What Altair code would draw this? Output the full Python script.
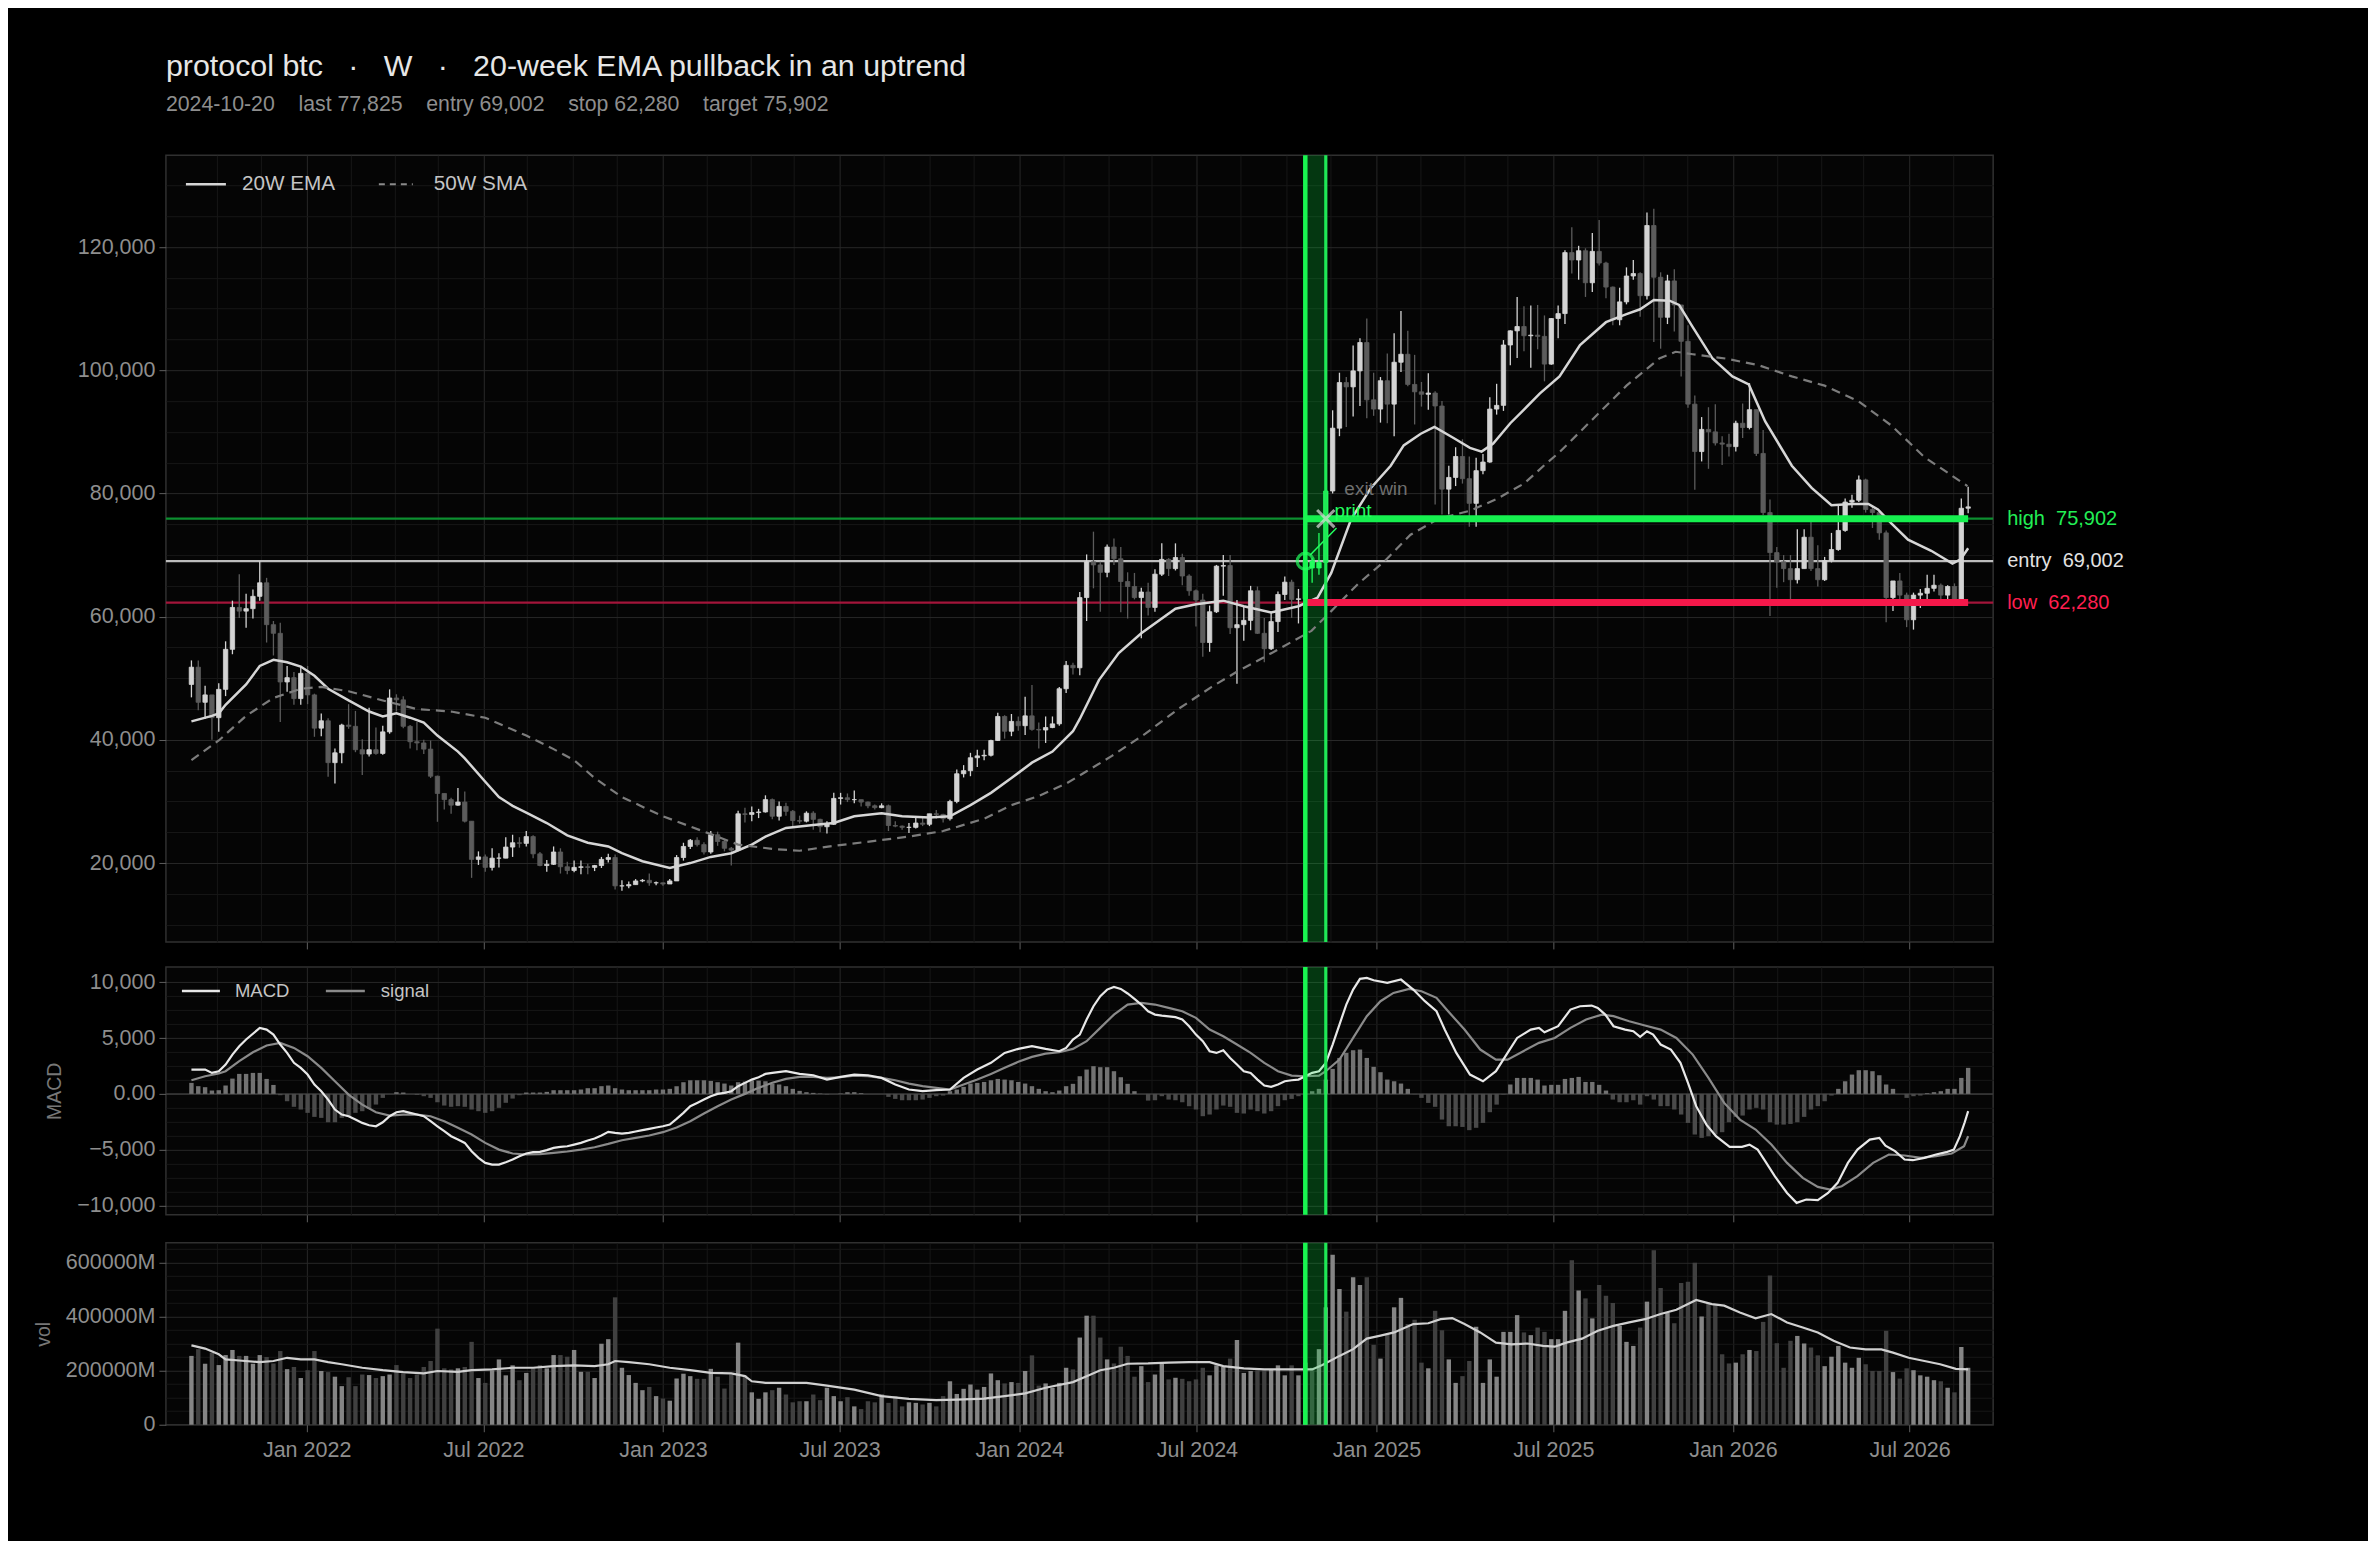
import altair as alt
import pandas as pd
import numpy as np

FONT = "Liberation Sans"

# ---------------- data (prices in thousands of USD, volume in billions) ----------------
START = "2021-09-05"          # first weekly bar (week ending Sunday)
ENTRY_DATE = "2024-10-20"
EXIT_DATE = "2024-11-10"
LAST_DATE = "2026-08-30"
ENTRY, STOP, TARGET = 69.002, 62.280, 75.902

FIRST_OPEN = 49.0
CLOSE = [
    51.8, 46.1, 47.3, 43.6, 48.2, 54.7, 61.5, 60.9, 61.3, 63.3,
    65.5, 58.7, 57.3, 49.4, 50.1, 46.7, 50.8, 47.3, 41.9, 43.1,
    36.3, 37.9, 42.4, 42.2, 38.4, 37.7, 38.4, 37.8, 41.3, 46.8,
    46.5, 42.2, 39.7, 39.5, 38.5, 34.1, 31.3, 30.3, 29.4, 29.9,
    26.8, 20.6, 21.0, 19.3, 20.8, 20.8, 22.6, 23.3, 23.2, 24.3,
    21.5, 19.6, 19.8, 21.8, 19.4, 18.8, 19.3, 19.4, 19.3, 19.6,
    20.6, 20.9, 16.3, 16.3, 16.5, 17.1, 17.2, 16.8, 16.8, 16.6,
    17.1, 20.9, 22.7, 23.7, 23.0, 21.8, 24.6, 23.5, 22.4, 22.1,
    28.0, 27.9, 28.2, 28.3, 30.3, 27.6, 29.2, 28.4, 26.9, 26.8,
    28.1, 27.1, 25.9, 26.3, 30.5, 30.6, 30.3, 30.3, 29.9, 29.3,
    29.0, 29.3, 26.1, 26.0, 25.8, 25.8, 26.5, 26.3, 28.0, 27.9,
    27.2, 30.0, 34.5, 35.0, 37.1, 37.4, 37.5, 39.9, 43.8, 41.4,
    43.0, 42.3, 43.9, 41.7, 41.6, 42.0, 42.6, 48.3, 52.1, 51.7,
    63.1, 68.9, 68.4, 67.2, 71.3, 69.4, 65.7, 64.9, 63.1, 64.0,
    61.5, 66.9, 69.3, 67.8, 69.6, 66.6, 64.2, 62.7, 55.8, 60.8,
    68.2, 68.3, 58.2, 58.7, 59.4, 64.2, 57.3, 54.8, 59.2, 63.6,
    65.6, 62.8, 62.9, 69.0, 67.9, 68.8, 80.4, 90.6, 98.0, 97.3,
    99.9, 104.5, 95.2, 93.7, 98.3, 94.5, 101.3, 102.6, 97.7, 96.5,
    96.1, 96.3, 94.2, 80.7, 82.6, 86.0, 82.4, 78.4, 83.7, 85.1,
    93.7, 94.3, 104.1, 106.4, 107.1, 105.6, 105.7, 105.5, 101.0, 108.4,
    109.2, 119.1, 117.9, 119.4, 114.2, 119.3, 117.4, 113.5, 108.2, 111.1,
    115.3, 115.7, 112.1, 123.5, 115.1, 108.6, 114.5, 110.6, 104.7, 94.5,
    86.8, 90.4, 90.0, 88.2, 88.0, 87.6, 91.4, 90.7, 93.6, 86.5,
    76.9, 70.4, 68.9, 67.8, 66.0, 67.8, 72.9, 67.8, 66.0, 69.1,
    70.9, 74.0, 78.6, 78.9, 82.2, 77.4, 76.9, 73.6, 63.1, 65.8,
    63.5, 59.5, 63.5, 63.8, 64.6, 65.1, 63.5, 64.9, 62.8, 77.6,
    77.825,
]
HIGH = [
    52.9, 52.9, 48.8, 47.3, 49.2, 56.0, 62.6, 66.9, 63.7, 64.4,
    69.0, 66.3, 59.3, 59.0, 52.0, 51.0, 51.9, 52.0, 47.5, 44.3,
    43.5, 38.6, 42.6, 45.8, 44.7, 40.1, 45.2, 42.0, 42.3, 48.2,
    47.4, 47.1, 42.4, 42.9, 40.0, 39.9, 34.2, 31.3, 30.6, 32.2,
    31.6, 26.8, 21.9, 21.4, 22.4, 21.6, 24.2, 24.6, 24.2, 25.2,
    24.5, 21.8, 20.5, 22.7, 22.4, 20.2, 20.4, 20.4, 19.9, 19.7,
    21.0, 21.5, 21.4, 17.2, 17.0, 17.4, 17.4, 18.3, 17.0, 16.8,
    17.4, 21.3, 23.3, 23.9, 24.2, 23.4, 25.2, 25.1, 23.9, 22.6,
    28.5, 29.0, 29.2, 28.8, 31.0, 30.5, 30.0, 29.8, 28.6, 27.7,
    28.4, 28.4, 27.2, 26.8, 31.4, 31.4, 31.3, 31.8, 30.3, 30.0,
    29.5, 29.7, 29.5, 26.8, 26.1, 26.5, 27.4, 27.4, 28.0, 28.6,
    28.0, 30.3, 35.2, 35.9, 37.9, 38.4, 38.4, 40.0, 44.4, 44.0,
    44.2, 43.8, 47.0, 48.9, 42.8, 43.8, 43.8, 48.6, 52.8, 52.5,
    64.0, 70.1, 73.8, 68.9, 71.7, 72.7, 71.3, 67.2, 67.1, 64.7,
    65.5, 67.7, 71.9, 69.5, 71.9, 70.2, 66.9, 64.4, 63.7, 61.8,
    68.4, 70.0, 70.0, 62.7, 61.6, 65.0, 64.9, 59.8, 60.6, 64.1,
    66.5, 66.0, 64.5, 69.4, 69.5, 73.6, 81.5, 93.5, 99.6, 98.9,
    104.0, 105.2, 108.4, 99.6, 98.9, 102.7, 106.0, 109.6, 106.4, 102.5,
    98.1, 99.5, 96.6, 95.0, 84.5, 87.5, 88.8, 86.0, 85.8, 86.4,
    95.6, 97.8, 104.9, 106.5, 111.9, 110.4, 110.5, 110.6, 108.9, 108.5,
    110.5, 119.5, 123.2, 120.2, 119.8, 122.3, 124.4, 117.6, 113.6, 113.4,
    116.7, 117.9, 115.9, 125.6, 126.2, 115.9, 115.5, 116.4, 110.6, 107.3,
    95.9, 92.4, 94.0, 94.5, 89.3, 89.7, 91.8, 94.6, 97.9, 93.6,
    90.3, 79.0, 71.3, 70.0, 70.0, 74.2, 74.2, 75.7, 71.6, 69.7,
    73.6, 78.1, 79.2, 79.8, 82.9, 82.4, 78.0, 77.3, 74.0, 65.8,
    67.1, 63.9, 63.9, 64.5, 66.8, 66.8, 65.4, 65.1, 65.4, 79.2,
    81.1,
]
LOW = [
    46.9, 44.8, 43.4, 40.0, 41.3, 47.1, 53.9, 59.8, 58.2, 59.7,
    62.6, 55.8, 53.7, 42.9, 47.8, 45.7, 45.7, 45.8, 40.5, 40.6,
    34.0, 32.9, 36.2, 41.8, 38.0, 34.3, 37.3, 37.6, 37.6, 41.0,
    44.6, 41.9, 38.6, 38.3, 37.7, 33.8, 26.7, 28.7, 28.0, 29.3,
    26.6, 17.6, 19.7, 18.6, 18.8, 19.3, 20.8, 21.0, 22.5, 22.7,
    20.8, 19.5, 18.6, 19.7, 18.3, 18.2, 18.5, 18.2, 18.2, 18.7,
    19.2, 20.1, 15.7, 15.5, 15.9, 16.5, 16.9, 16.3, 16.4, 16.3,
    16.6, 17.1, 20.4, 22.3, 22.7, 21.4, 21.5, 22.8, 21.9, 19.6,
    21.9, 26.6, 26.8, 27.3, 28.2, 27.1, 26.9, 27.7, 25.8, 26.4,
    26.6, 25.4, 25.0, 24.8, 26.2, 29.5, 29.9, 29.7, 29.2, 28.9,
    28.7, 28.9, 25.2, 25.8, 25.4, 24.9, 25.6, 26.0, 26.0, 27.2,
    26.6, 26.9, 29.7, 33.9, 34.1, 35.6, 36.7, 37.3, 39.8, 40.2,
    40.6, 41.5, 40.8, 41.5, 38.6, 39.5, 41.9, 42.3, 47.6, 50.6,
    50.5, 59.3, 64.6, 60.8, 66.4, 68.4, 60.7, 59.7, 62.8, 56.5,
    60.2, 60.8, 66.6, 66.6, 67.5, 65.1, 63.4, 58.4, 53.5, 54.3,
    60.6, 63.4, 57.2, 49.1, 56.1, 57.8, 57.2, 52.6, 54.6, 57.5,
    62.7, 59.8, 58.9, 62.0, 65.5, 66.8, 67.5, 80.0, 89.3, 90.8,
    92.5, 94.2, 92.2, 92.6, 91.5, 91.4, 89.3, 99.7, 97.4, 91.2,
    94.1, 93.6, 78.2, 76.6, 76.6, 81.2, 81.6, 74.6, 74.6, 83.1,
    85.0, 92.8, 93.4, 100.8, 102.0, 103.1, 100.4, 103.4, 98.2, 100.9,
    105.2, 107.5, 115.7, 114.7, 111.9, 112.7, 117.0, 111.7, 107.3, 107.3,
    110.7, 114.7, 108.7, 111.5, 104.6, 103.5, 107.5, 106.3, 99.0, 93.9,
    80.6, 85.2, 84.0, 87.8, 84.6, 86.0, 86.8, 89.0, 90.4, 86.1,
    76.5, 60.1, 64.7, 65.6, 62.8, 65.4, 67.8, 67.4, 64.9, 65.8,
    68.8, 70.7, 73.8, 77.7, 78.6, 76.9, 74.4, 72.5, 59.1, 60.9,
    62.7, 58.3, 57.9, 61.4, 62.7, 64.1, 62.8, 62.6, 62.4, 62.4,
    76.8,
]
VOLUME = [
    255, 280, 226, 267, 221, 258, 277, 255, 255, 226,
    258, 251, 227, 273, 206, 214, 173, 202, 273, 199,
    195, 178, 143, 176, 143, 186, 184, 173, 180, 186,
    221, 190, 173, 186, 214, 236, 356, 209, 205, 209,
    214, 307, 173, 155, 201, 242, 183, 220, 165, 192,
    209, 221, 209, 258, 258, 252, 277, 196, 196, 173,
    300, 317, 472, 211, 184, 155, 128, 140, 106, 97,
    89, 171, 189, 180, 170, 170, 207, 178, 134, 186,
    304, 183, 120, 96, 120, 128, 137, 112, 83, 87,
    87, 112, 91, 137, 106, 87, 102, 68, 58, 87,
    83, 112, 81, 106, 68, 83, 81, 75, 81, 68,
    106, 161, 114, 133, 149, 130, 140, 190, 165, 153,
    158, 155, 199, 257, 145, 153, 137, 155, 211, 205,
    323, 404, 404, 323, 242, 227, 289, 255, 178, 217,
    158, 186, 227, 168, 174, 170, 161, 168, 211, 183,
    220, 214, 245, 314, 192, 199, 201, 201, 205, 220,
    183, 220, 183, 230, 211, 280, 435, 630, 503, 419,
    546, 518, 546, 296, 245, 335, 435, 470, 373, 389,
    230, 209, 422, 350, 242, 155, 180, 236, 363, 155,
    242, 178, 344, 344, 406, 342, 332, 360, 344, 317,
    317, 422, 609, 497, 468, 394, 518, 478, 451, 366,
    307, 292, 360, 456, 646, 507, 414, 376, 525, 530,
    600, 401, 451, 443, 261, 227, 230, 261, 277, 273,
    381, 553, 302, 211, 311, 329, 301, 286, 257, 217,
    252, 292, 230, 211, 248, 224, 199, 199, 348, 195,
    171, 209, 202, 183, 178, 165, 161, 137, 120, 288,
    211,
]
HIST = [
    985, 690, 600, 300, 330, 750, 1370, 1790, 1790, 1880,
    1880, 1340, 800, -120, -660, -1160, -1400, -1700, -2060, -2150,
    -2540, -2540, -2150, -2060, -1700, -1550, -1340, -955, -360, 0,
    150, 120, 0, -90, -210, -360, -750, -1045, -1160, -1100,
    -1160, -1400, -1550, -1700, -1550, -1250, -800, -420, -120, 120,
    120, 120, 180, 330, 330, 330, 330, 390, 510, 510,
    690, 750, 510, 390, 330, 330, 330, 330, 390, 390,
    450, 690, 1045, 1220, 1220, 1220, 1160, 1045, 925, 750,
    1045, 1100, 1190, 1190, 1130, 925, 840, 690, 450, 270,
    150, 90, 30, -60, 0, 30, 150, 150, 60, 0,
    0, 0, -270, -450, -570, -570, -570, -510, -360, -210,
    -150, 240, 390, 630, 925, 985, 1070, 1220, 1340, 1280,
    1220, 1070, 925, 690, 450, 240, 150, 300, 690, 900,
    1580, 2180, 2480, 2390, 2390, 2030, 1490, 900, 240, 0,
    -600, -570, -210, -510, -570, -750, -1100, -1400, -2000, -1850,
    -1400, -1045, -1160, -1700, -1760, -1400, -1550, -1760, -1550, -1100,
    -570, -450, -210, 0, 240, 450, 1280, 2240, 3220, 3670,
    3910, 3970, 3220, 2420, 1940, 1280, 1130, 925, 450, -30,
    -360, -810, -1160, -2300, -2900, -2900, -2960, -3250, -3040, -2600,
    -1640, -960, -60, 840, 1430, 1430, 1430, 1280, 750, 810,
    810, 1340, 1430, 1520, 1070, 1070, 810, 300, -510, -750,
    -750, -570, -960, -210, -510, -1100, -1100, -1400, -1850, -2600,
    -3640, -3940, -3790, -3640, -3430, -2540, -2060, -1940, -1400, -1250,
    -1400, -2540, -2750, -2750, -2690, -2540, -2060, -1400, -1100, -660,
    -150, 450, 1130, 1730, 2120, 2120, 2030, 1670, 840, 450,
    0, -360, -210, -150, 60, 150, 240, 450, 450, 1430,
    2330,
]

# indicator lines (week index from START, value)
EMA_W = [0, 3, 4, 5, 8, 10, 12, 14, 16, 18, 20, 23, 26, 28, 30, 32, 34, 36, 39, 40,
         43, 45, 47, 49, 52, 55, 58, 61, 63, 66, 70, 73, 76, 79, 82, 84, 87, 91, 94, 97,
         101, 104, 108, 111, 114, 117, 120, 123, 126, 129, 130, 132.8, 135.7, 139, 144, 147, 151, 154, 158, 162,
         164.8, 166.8, 169.7, 172.6, 175.5, 177.4, 179.9, 181.9, 184.7, 187.1, 188.8, 190.5, 193, 195, 197.3, 200.2, 203.2, 207, 210, 212,
         214, 216.3, 217.7, 219.7, 222.6, 225.5, 227.9, 230.3, 234.2, 237.1, 240, 242.9, 245.4, 246.8, 248.8, 251.2, 254.6, 257.7, 258.9, 260]
EMA_V = [43.0, 43.9, 44.3, 45.7, 49.0, 52.0, 53.0, 52.6, 51.9, 50.4, 48.3, 46.4, 44.6, 43.8, 44.3, 43.6, 42.8, 40.7, 38.1, 37.0,
         33.2, 30.7, 29.3, 28.2, 26.5, 24.5, 23.3, 22.7, 21.6, 20.3, 19.2, 20.0, 21.0, 21.6, 23.0, 24.3, 25.7, 26.2, 26.5, 27.6,
         28.1, 27.6, 27.4, 27.6, 29.4, 31.4, 33.8, 36.3, 38.1, 41.4, 43.4, 49.7, 54.1, 57.3, 61.3, 62.0, 62.6, 61.7, 60.7, 61.7,
         63.1, 67.1, 75.8, 80.9, 84.5, 87.8, 89.7, 90.8, 89.0, 87.4, 86.8, 88.1, 91.4, 93.6, 96.2, 99.0, 104.1, 107.8, 109.1, 109.9,
         111.4, 111.3, 110.6, 107.0, 101.9, 99.0, 97.7, 91.7, 84.5, 80.9, 78.1, 78.3, 78.3, 77.4, 75.1, 72.5, 70.7, 68.6, 69.3, 71.1]
SMA_W = [0, 4, 8, 12, 16, 19, 23, 28, 33, 38, 43, 49, 53, 56, 59, 63, 69, 76, 80, 85,
         89, 94, 100, 105, 110, 113, 116, 120, 124, 128, 131, 134.7, 139.6, 144.4, 149.3, 153.2, 157.1, 161, 163.9, 166.8,
         170.7, 174.5, 178.4, 182.3, 187.1, 191, 195, 198.3, 200.2, 205.1, 210, 214.8, 217.2, 219.7, 224.5, 229.4, 234.2, 239, 243.9, 248.8,
         253.6, 259.9]
SMA_V = [36.7, 39.9, 43.9, 46.8, 48.3, 48.6, 47.9, 46.4, 45.0, 44.6, 43.6, 40.7, 38.5, 36.7, 33.8, 30.7, 27.6, 24.7, 23.0, 22.3,
         22.0, 22.8, 23.6, 24.3, 25.2, 26.2, 27.2, 29.4, 30.9, 32.9, 34.9, 37.4, 41.0, 45.0, 48.6, 51.2, 53.5, 55.9, 57.7, 60.9,
         65.3, 68.9, 73.3, 75.8, 77.2, 79.1, 81.6, 84.9, 86.7, 92.1, 97.5, 101.9, 103.0, 102.6, 101.9, 100.8, 99.0, 97.5, 95.0, 91.0,
         85.9, 81.2]
MACD_W = [0, 2, 3, 4, 5, 6, 7, 8, 10, 11, 12, 13, 14, 15, 16, 17, 18, 19, 20, 21,
          22, 23, 24, 25, 26, 27, 28, 29, 30, 31, 32, 33, 34, 35, 36, 37, 38, 39, 40, 41,
          42, 43, 44, 45, 46, 47, 48, 49, 50, 51, 52, 53, 54, 55, 56, 57, 58, 59, 60, 61,
          62, 63, 64, 65, 66, 67, 68, 69, 70, 71, 72, 73, 74, 75, 76, 77, 78, 79, 80, 81,
          82, 83, 84, 85, 87, 89, 91, 93, 95, 97, 99, 101, 103, 105, 107, 109, 111, 113, 115, 117,
          119, 121, 123, 125, 127, 128, 129, 130, 131, 132, 133, 134, 135, 136, 137, 138, 139, 140, 141, 142,
          144, 145, 146, 147, 148, 149, 150, 151, 152, 153, 154, 155, 156, 157, 158, 159, 160, 161, 162, 163,
          164, 165, 166, 167, 168, 169, 170, 171, 172, 173, 175, 177, 178.8, 180.5, 182.2, 183.4, 185.1, 187.1, 189, 190.9,
          192.6, 194, 196, 197.2, 198, 200, 201.8, 203.2, 204.9, 205.8, 206.9, 208.1, 209.8, 211, 212, 213, 213.9, 215, 216.5, 217.9,
          219, 220.2, 221.7, 223.1, 225.1, 226.9, 228, 229.2, 230.3, 231.7, 233.5, 234.9, 236.3, 238, 239.5, 240.9, 242.4, 243.8, 245.6, 247,
          247.9, 249.3, 250.7, 251.9, 253.6, 255.3, 256.8, 257.9, 258.8, 259.5, 260]
MACD_V = [2180, 2180, 1880, 2030, 2630, 3520, 4270, 4870, 5910, 5760, 5310, 4420, 3670, 2780, 2330, 1730, 840, 240, -510, -1400,
          -1850, -2000, -2300, -2600, -2810, -2900, -2540, -2000, -1640, -1550, -1700, -1850, -2000, -2450, -2900, -3340, -3790, -4090, -4390, -5130,
          -5730, -6180, -6330, -6330, -6120, -5880, -5580, -5340, -5220, -5190, -5040, -4840, -4750, -4690, -4540, -4390, -4180, -4000, -3730, -3400,
          -3490, -3550, -3490, -3370, -3250, -3130, -3010, -2900, -2750, -2240, -1700, -1100, -810, -510, -210, 0, 90, 240, 690, 985,
          1280, 1490, 1790, 1880, 2030, 1790, 1670, 1280, 1520, 1730, 1670, 1430, 840, 390, 240, 330, 390, 1430, 2180, 2780,
          3670, 4030, 4270, 4030, 3820, 4120, 4870, 5310, 6660, 7850, 8750, 9340, 9580, 9400, 8990, 8510, 8000, 7400, 7100, 7010,
          6870, 6660, 6060, 5310, 4720, 3820, 3670, 3910, 3220, 2630, 2030, 1880, 1280, 750, 630, 840, 1130, 1220, 1280, 1580,
          1880, 2030, 2780, 4420, 6210, 8000, 9340, 10300, 10390, 10180, 9940, 10240, 9340, 8300, 7400, 5760, 3670, 1730, 1130, 2030,
          3670, 5010, 5760, 5910, 5520, 6060, 7550, 7850, 7910, 7700, 7100, 6060, 5760, 5610, 5100, 5610, 5310, 4420, 3970, 2780,
          990, -1100, -2750, -3790, -4750, -4750, -4540, -4990, -6030, -7370, -8870, -9760, -9460, -9520, -8870, -7970, -6180, -4990, -4090, -3940,
          -4630, -5130, -5880, -5940, -5730, -5430, -5220, -4990, -3790, -2540, -1550]
SIGNAL_W = [0, 2, 4, 5, 7, 9, 11, 13, 15, 17, 19, 21, 23, 25, 27, 29, 31, 33, 35, 37,
            39, 41, 43, 45, 47, 49, 51, 53, 55, 57, 59, 61, 63, 65, 67, 69, 71, 73, 75, 77,
            79, 81, 83, 85, 87, 89, 91, 93, 95, 97, 99, 101, 103, 105, 107, 109, 111, 113, 115, 117,
            119, 121, 123, 125, 127, 129, 131, 133, 135, 137, 139, 141, 143, 145, 147, 149, 151, 153, 155, 157,
            159, 161, 163, 165, 166, 168, 170, 172, 174, 175.9, 178.2, 180, 182.2, 183.9, 186.3, 188.6, 190.9, 192.6, 194.9, 197.2,
            199.5, 201.8, 204.1, 206.4, 208.1, 210.4, 212.7, 215, 217.3, 219.7, 222, 224.3, 226.6, 228.9, 231.2, 233.5, 235.8, 238, 239.8, 241.5,
            243.8, 246.1, 248.4, 250.7, 253.1, 255.3, 257.6, 259.4, 260]
SIGNAL_V = [1220, 1580, 1820, 2030, 2930, 3730, 4330, 4570, 4120, 3370, 2330, 1130, -60, -960, -1640, -1940, -1850, -1850, -2000, -2450,
            -3040, -3640, -4390, -4990, -5340, -5430, -5400, -5280, -5160, -4990, -4780, -4480, -4150, -3940, -3730, -3430, -3010, -2450, -1760, -1100,
            -510, 0, 540, 1000, 1340, 1520, 1520, 1430, 1490, 1640, 1580, 1430, 1220, 925, 690, 540, 390, 840, 1280, 1790,
            2330, 2870, 3310, 3610, 3730, 4030, 4720, 5910, 7100, 8000, 8150, 8000, 7700, 7400, 6810, 5760, 5160, 4420, 3670, 2780,
            2030, 1640, 1580, 1640, 2030, 3070, 5010, 6960, 8300, 9040, 9400, 9190, 8600, 7400, 5760, 3970, 3070, 3070, 3820, 4570,
            5010, 5910, 6660, 7100, 6960, 6510, 6120, 5760, 5010, 3520, 1430, -810, -2300, -3190, -4540, -6180, -7520, -8330, -8570, -8270,
            -7370, -6180, -5430, -5520, -5730, -5580, -5340, -4690, -3790]
VMA_W = [0, 2, 4, 5, 7, 10, 12, 14, 16, 18, 20, 22, 25, 28, 31, 34, 36, 39, 41, 44,
         47, 50, 53, 56, 59, 61, 62, 64, 67, 70, 73, 76, 79, 81, 82, 84, 90, 93, 97, 101,
         105, 109, 112, 116, 119, 122, 125, 129, 131, 133, 135, 137, 140, 143, 146, 149, 151, 154, 157, 160,
         164, 165.5, 168, 170, 172, 174, 176, 178.8, 181, 182.8, 184.5, 186.3, 188.6, 190.9, 193.2, 195.5, 197.8, 199.5, 201.2, 203.5,
         205.8, 208.1, 210.4, 212.7, 215, 217.3, 220.2, 222.5, 224.3, 226.6, 228.9, 231.2, 233.5, 235.8, 238, 240.3, 242.7, 245, 247.3, 249,
         251.3, 253.6, 255.9, 258.2, 260]
VMA_V = [294, 282, 261, 242, 238, 232, 236, 248, 242, 242, 232, 224, 211, 202, 195, 190, 199, 196, 202, 205,
         211, 211, 217, 220, 217, 224, 236, 232, 224, 211, 202, 192, 190, 180, 161, 155, 155, 145, 130, 106,
         96, 91, 93, 97, 106, 116, 137, 158, 180, 202, 211, 226, 227, 230, 232, 232, 217, 209, 205, 205,
         205, 221, 255, 280, 319, 330, 342, 373, 376, 391, 395, 373, 342, 304, 298, 301, 292, 289, 304, 319,
         348, 366, 379, 391, 410, 426, 462, 447, 441, 416, 394, 410, 379, 360, 342, 311, 286, 279, 279, 267,
         248, 236, 224, 207, 205]

# annotations
ANNOT_TEXT = ["exit win", "print"]
ANNOT_DATE = ["2024-11-29", "2024-11-19"]
ANNOT_Y = [80.8, 77.2]
CONN_DATE = ["2024-10-25", "2024-11-21"]
CONN_Y = [70.0, 74.4]

# ---------------- styling ----------------
W = 1828
H_MAIN, H_MACD, H_VOL = 787, 248, 182
UP, DOWN, WIN = "#d4d4d4", "#5c5c5c", "#22ff5e"
VOL_UP, VOL_DOWN = "#858585", "#404040"
HIST_POS, HIST_NEG = "#727272", "#4a4a4a"
GREEN_THIN, GREEN_THICK, RED_THIN, RED_THICK = "#0d8f30", "#16f04f", "#a3153a", "#f5184a"
LABEL_C = "#8e8e8e"
AX_FS = 21.5

start = pd.Timestamp(START)


def wk(idx):
    return [start + pd.Timedelta(days=7 * float(i)) for i in idx]


df = pd.DataFrame({
    "date": wk(range(len(CLOSE))),
    "open": [FIRST_OPEN] + CLOSE[:-1],
    "close": CLOSE, "high": HIGH, "low": LOW, "vol": VOLUME, "hist": HIST,
})
up = df["close"] >= df["open"]
inwin = (df["date"] >= pd.Timestamp(ENTRY_DATE)) & (df["date"] <= pd.Timestamp(EXIT_DATE))
df["ccol"] = np.where(inwin, WIN, np.where(up, UP, DOWN))
df["vcol"] = np.where(up, VOL_UP, VOL_DOWN)
df["hcol"] = np.where(df["hist"] >= 0, HIST_POS, HIST_NEG)

ema = pd.DataFrame({"date": wk(EMA_W), "v": EMA_V})
sma = pd.DataFrame({"date": wk(SMA_W), "v": SMA_V})
macd = pd.DataFrame({"date": wk(MACD_W), "v": MACD_V})
sig = pd.DataFrame({"date": wk(SIGNAL_W), "v": SIGNAL_V})
vma = pd.DataFrame({"date": wk(VMA_W), "v": VMA_V})

band = pd.DataFrame({"start": [pd.Timestamp(ENTRY_DATE)], "end": [pd.Timestamp(EXIT_DATE)]})
vlines = pd.DataFrame({"date": [pd.Timestamp(ENTRY_DATE), pd.Timestamp(EXIT_DATE)],
                       "c": ["#19f550", "#1fe856"], "w": [4.5, 3.2]})
levels = pd.DataFrame({
    "value": [TARGET, ENTRY, STOP],
    "thin": [GREEN_THIN, "#bdbdbd", RED_THIN],
    "label": ["high\u00a0\u00a075,902", "entry\u00a0\u00a069,002", "low\u00a0\u00a062,280"],
    "lc": ["#22ee55", "#e2e2e2", "#ff1f4f"],
})
thick = pd.DataFrame({
    "start": [pd.Timestamp(ENTRY_DATE), pd.Timestamp(ENTRY_DATE)],
    "end": [pd.Timestamp(LAST_DATE), pd.Timestamp(LAST_DATE)],
    "value": [TARGET, STOP], "c": [GREEN_THICK, RED_THICK],
})
entry_pt = pd.DataFrame({"date": [pd.Timestamp(ENTRY_DATE)], "v": [ENTRY]})
exit_pt = pd.DataFrame({"date": [pd.Timestamp(EXIT_DATE)], "v": [TARGET]})
annot = pd.DataFrame({"date": pd.to_datetime(ANNOT_DATE), "v": ANNOT_Y, "t": ANNOT_TEXT,
                      "c": ["#6f6f6f", WIN]})
conn = pd.DataFrame({"date": pd.to_datetime(CONN_DATE), "v": CONN_Y})
one = pd.DataFrame({"a": [0]})

# ---------------- axes ----------------
GRID_DATES = []
for yr in range(2021, 2027):
    for (m, d) in [(1, 1), (2, 15), (4, 1), (5, 15), (7, 1), (8, 15), (10, 1), (11, 15)]:
        ts = pd.Timestamp(yr, m, d)
        if pd.Timestamp(2021, 9, 1) <= ts <= pd.Timestamp(2026, 9, 1):
            GRID_DATES.append(alt.DateTime(year=yr, month=m, date=d))

XS = alt.Scale(domain=[alt.DateTime(year=2021, month=8, date=15),
                       alt.DateTime(year=2026, month=9, date=19, hours=12)])
MAJX = "month(datum.value) == 0 || month(datum.value) == 6"
GRID_MAJ, GRID_MIN, TICK_C = "#282828", "#171717", "#5e5e5e"


def x_axis(labels):
    kw = dict(values=GRID_DATES, title=None, grid=True, domain=False,
              gridColor={"condition": {"test": MAJX, "value": GRID_MAJ}, "value": GRID_MIN},
              tickColor={"condition": {"test": MAJX, "value": TICK_C}, "value": "transparent"},
              tickSize=7, labels=labels)
    if labels:
        kw.update(labelExpr=f"({MAJX}) ? timeFormat(datum.value, '%b %Y') : ''",
                  labelColor=LABEL_C, labelFontSize=AX_FS, labelFont=FONT, labelPadding=8,
                  labelOverlap=False, labelFlush=False)
    return alt.Axis(**kw)


def X(field, labels=False):
    return alt.X(f"{field}:T", scale=XS, axis=x_axis(labels), title=None)


def y_axis(values, major, expr, title=None):
    return alt.Axis(values=values, title=title, domain=False, grid=True,
                    gridColor={"condition": {"test": major, "value": GRID_MAJ}, "value": GRID_MIN},
                    tickColor={"condition": {"test": major, "value": TICK_C}, "value": "transparent"},
                    tickSize=7, labelExpr=expr, labelColor=LABEL_C, labelFontSize=AX_FS, labelFont=FONT,
                    labelPadding=4, labelOverlap=False,
                    titleColor="#777777", titleFontSize=19.5, titleFontWeight="normal", titleFont=FONT,
                    titlePadding=12)


MAIN_AX = y_axis([float(v) for v in range(10, 131, 5)], "datum.value % 20 == 0",
                 "datum.value % 20 == 0 ? format(datum.value * 1000, ',') : ''")
MAIN_SC = alt.Scale(domain=[7.2, 134.9], zero=False, nice=False)
MACD_AX = y_axis([-10000 + 1250 * k for k in range(17)], "datum.value % 5000 == 0",
                 "datum.value % 5000 == 0 ? (datum.value == 0 ? '0.00' : format(datum.value, ',')) : ''",
                 title="MACD")
MACD_SC = alt.Scale(domain=[-10830, 11370], zero=False, nice=False)
VOL_AX = y_axis([50 * k for k in range(14)], "datum.value % 200 == 0",
                "datum.value == 0 ? '0' : (datum.value % 200 == 0 ? format(datum.value * 1000, 'd') + 'M' : '')",
                title="vol")
VOL_SC = alt.Scale(domain=[0, 674], zero=False, nice=False)


def YM(field):
    return alt.Y(f"{field}:Q", scale=MAIN_SC, axis=MAIN_AX, title=None)


def YD(field):
    return alt.Y(f"{field}:Q", scale=MACD_SC, axis=MACD_AX, title="MACD")


def YV(field):
    return alt.Y(f"{field}:Q", scale=VOL_SC, axis=VOL_AX, title="vol")


def text_at(txt, x, y, size, color, align="left", baseline="middle"):
    return alt.Chart(one).mark_text(text=txt, align=align, baseline=baseline, fontSize=size,
                                    color=color, font=FONT).encode(x=alt.value(x), y=alt.value(y))


def rule_at(x1, x2, y, color, width, dash=None):
    kw = dict(color=color, strokeWidth=width)
    if dash:
        kw["strokeDash"] = dash
    return alt.Chart(one).mark_rule(**kw).encode(x=alt.value(x1), x2=alt.value(x2), y=alt.value(y))


# ---------------- main price panel ----------------
m_band = alt.Chart(band).mark_rect(color="#00ff40", opacity=0.2).encode(x=X("start"), x2="end:T")
m_thin = alt.Chart(levels).mark_rule(strokeWidth=2.2).encode(y=YM("value"), color=alt.Color("thin:N", scale=None))
m_wick = alt.Chart(df).mark_rule(strokeWidth=1.3).encode(
    x=X("date"), y=YM("low"), y2="high:Q", color=alt.Color("ccol:N", scale=None))
m_body = alt.Chart(df).mark_bar(size=4.4, strokeWidth=0.8).encode(
    x=X("date"), y=YM("open"), y2="close:Q",
    color=alt.Color("ccol:N", scale=None), stroke=alt.Stroke("ccol:N", scale=None))
m_ema = alt.Chart(ema).mark_line(color="#d6d6d6", strokeWidth=2.5).encode(x=X("date"), y=YM("v"))
m_sma = alt.Chart(sma).mark_line(color="#7c7c7c", strokeWidth=2.2, strokeDash=[9, 6]).encode(x=X("date"), y=YM("v"))
m_thick = alt.Chart(thick).mark_rule(strokeWidth=7).encode(
    x=X("start"), x2="end:T", y=YM("value"), color=alt.Color("c:N", scale=None))
m_conn = alt.Chart(conn).mark_line(color=WIN, strokeWidth=1.5).encode(x=X("date"), y=YM("v"))
m_vl = alt.Chart(vlines).mark_rule().encode(
    x=X("date"), color=alt.Color("c:N", scale=None), strokeWidth=alt.StrokeWidth("w:Q", scale=None))
m_entry = alt.Chart(entry_pt).mark_point(shape="circle", filled=False, size=260, strokeWidth=3.2, color=WIN).encode(
    x=X("date"), y=YM("v"))
m_exit = alt.Chart(exit_pt).mark_point(shape="M-1,-1L1,1M-1,1L1,-1", filled=False, size=300, strokeWidth=3,
                                       color="#dddddd").encode(x=X("date"), y=YM("v"))
m_annot = alt.Chart(annot).mark_text(align="left", baseline="middle", fontSize=19, font=FONT).encode(
    x=X("date"), y=YM("v"), text="t:N", color=alt.Color("c:N", scale=None))
m_labels = alt.Chart(levels).mark_text(align="left", baseline="middle", fontSize=20, font=FONT).encode(
    x=alt.value(W + 14), y=YM("value"), text="label:N", color=alt.Color("lc:N", scale=None))

main = alt.layer(
    m_band, m_thin, m_wick, m_body, m_ema, m_sma, m_thick, m_conn, m_vl, m_entry, m_exit, m_annot, m_labels,
    rule_at(20, 60, 29, "#d6d6d6", 2.5), text_at("20W EMA", 76, 29, 20.7, "#c4c4c4"),
    rule_at(213, 247, 29, "#8a8a8a", 2.2, [6, 5]), text_at("50W SMA", 268, 29, 20.7, "#c4c4c4"),
    text_at("protocol btc\u00a0\u00a0\u00a0·\u00a0\u00a0\u00a0W\u00a0\u00a0\u00a0·\u00a0\u00a0\u00a020-week EMA pullback in an uptrend",
            0, -79, 30.4, "#e6e6e6", baseline="alphabetic"),
    text_at("2024-10-20\u00a0\u00a0\u00a0\u00a0last 77,825\u00a0\u00a0\u00a0\u00a0entry 69,002\u00a0\u00a0\u00a0\u00a0stop 62,280\u00a0\u00a0\u00a0\u00a0target 75,902",
            0, -44, 21.3, LABEL_C, baseline="alphabetic"),
).properties(width=W, height=H_MAIN)

# ---------------- MACD panel ----------------
zero_df = pd.DataFrame({"z": [0]})
d_hist = alt.Chart(df).mark_bar(size=4.4).encode(
    x=X("date"), y=YD("hist"), y2=alt.datum(0), color=alt.Color("hcol:N", scale=None))
d_zero = alt.Chart(zero_df).mark_rule(color="#3a3a3a", strokeWidth=1.5).encode(y=YD("z"))
d_sig = alt.Chart(sig).mark_line(color="#8a8a8a", strokeWidth=2.2).encode(x=X("date"), y=YD("v"))
d_macd = alt.Chart(macd).mark_line(color="#e8e8e8", strokeWidth=2.2).encode(x=X("date"), y=YD("v"))
d_band = alt.Chart(band).mark_rect(color="#00ff40", opacity=0.2).encode(x=X("start"), x2="end:T")
d_vl = alt.Chart(vlines).mark_rule().encode(
    x=X("date"), color=alt.Color("c:N", scale=None), strokeWidth=alt.StrokeWidth("w:Q", scale=None))
macd_panel = alt.layer(
    d_zero, d_hist, d_sig, d_macd, d_band, d_vl,
    rule_at(16, 54, 24, "#e8e8e8", 2.5), text_at("MACD", 69, 24, 18.5, "#c4c4c4"),
    rule_at(160, 199, 24, "#8a8a8a", 2.5), text_at("signal", 215, 24, 18.5, "#c4c4c4"),
).properties(width=W, height=H_MACD)

# ---------------- volume panel ----------------
v_bar = alt.Chart(df).mark_bar(size=4.4).encode(
    x=X("date", labels=True), y=YV("vol"), y2=alt.datum(0), color=alt.Color("vcol:N", scale=None))
v_ma = alt.Chart(vma).mark_line(color="#d0d0d0", strokeWidth=2.2).encode(x=X("date", labels=True), y=YV("v"))
v_band = alt.Chart(band).mark_rect(color="#00ff40", opacity=0.2).encode(x=X("start", labels=True), x2="end:T")
v_vl = alt.Chart(vlines).mark_rule().encode(
    x=X("date", labels=True), color=alt.Color("c:N", scale=None), strokeWidth=alt.StrokeWidth("w:Q", scale=None))
vol_panel = alt.layer(v_bar, v_ma, v_band, v_vl).properties(width=W, height=H_VOL)

# padding on the right/bottom extends the black canvas over the whole window
chart = alt.vconcat(main, macd_panel, vol_panel, spacing=13).properties(
    padding={"left": 24, "top": 43, "right": 243, "bottom": 78},
    background="#000000",
    usermeta={"embedOptions": {"defaultStyle": "html, body { background: #000000; }"}},
).configure_view(stroke="#303030", strokeWidth=1.5, fill="#050505").configure_text(font=FONT)

chart.save("out.html", embed_options={"renderer": "svg", "actions": False})
